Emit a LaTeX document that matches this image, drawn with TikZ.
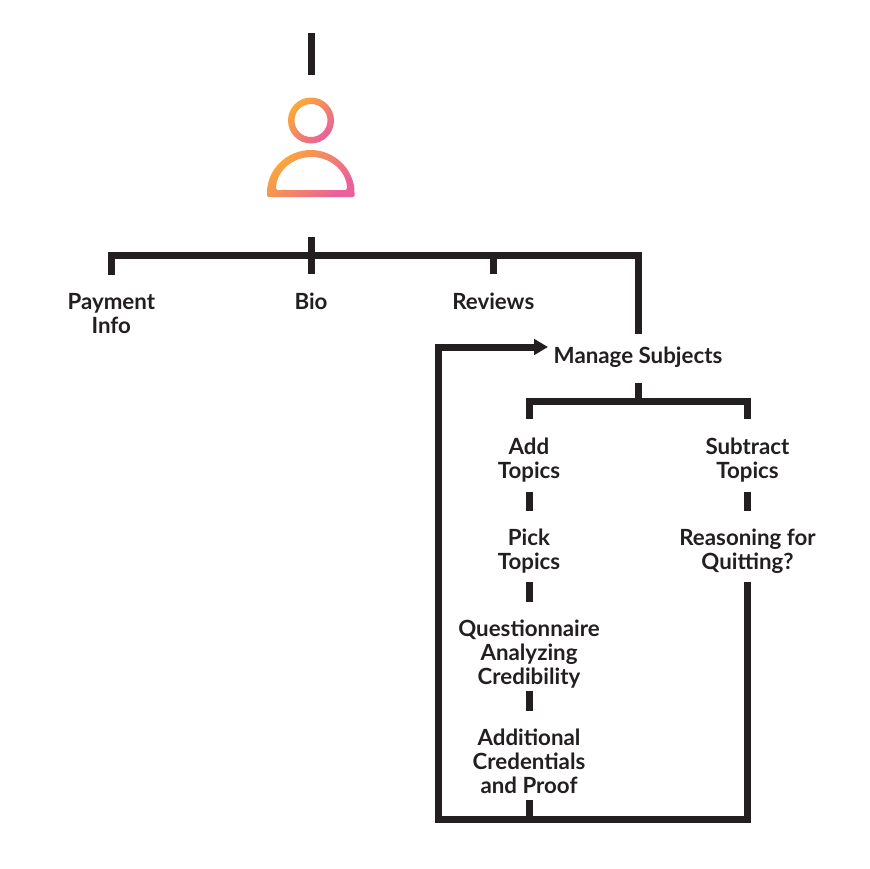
\documentclass[tikz,border=0pt]{standalone}
\usepackage{fontspec}
\setmainfont{Lato}
\definecolor{ink}{HTML}{231F20}
\definecolor{warmorange}{HTML}{FBAA35}
\definecolor{warmpink}{HTML}{EB5F9B}
\usetikzlibrary{arrows.meta,positioning}
\tikzset{
  trunk/.style={ink, line width=7pt},
  topic/.style={ink, font=\bfseries\fontsize{22.3}{24}\selectfont, align=center, inner sep=0pt, outer sep=0pt},
  persona/.style={top color=warmorange, bottom color=warmpink, shading angle=45, even odd rule}
}
\begin{document}
\begin{tikzpicture}[x=1pt,y=-1pt]
  \useasboundingbox (0,0) rectangle (870,868);
  % Person icon
  \shade[persona] (311,120.5) circle (23) (311,120.5) circle (16.5);
  \shade[persona,rounded corners=1.5pt]
    (267,197) -- (267,194) arc (180:360:43.75 and 44) -- (354.5,197) -- cycle
    (276,190) arc (180:360:35.5 and 33) -- cycle;
  % Top level labels
  \node[topic] (pay) at (111.3,313.5) {Payment\\Info};
  \node[topic] (bio) at (311,301) {Bio};
  \node[topic] (rev) at (493.3,301) {Reviews};
  \node[topic] (mng) at (638,357) {Manage Subjects};
  % Adding branch
  \node[topic] (add) at (529,460) {Add\\Topics};
  \node[topic] (pick) at (529,551) {Pick\\Topics};
  \node[topic] (quest) at (529,654) {Questionnaire\\Analyzing\\Credibility};
  \node[topic] (extra) at (529,761) {Additional\\Credentials\\and Proof};
  % Subtracting branch
  \node[topic] (sub) at (747.5,460) {Subtract\\Topics};
  \node[topic] (why) at (747.5,551) {Reasoning for\\Quitting?};
  % Free ends
  \coordinate (lead) at (311,33);
  \coordinate (leadend) at (311,75);
  \coordinate (stem) at (311,237);
  \coordinate (hub) at (311,255.5);
  \coordinate (fork) at (638,401.5);
  \coordinate (corner) at (438.5,819.5);
  \coordinate (back) at (548,347);
  % Connectors
  \draw[trunk] (lead) -- (leadend);
  \draw[trunk,shorten >=18.3pt] (stem) -- (bio.north);
  \draw[trunk,shorten <=18.3pt,shorten >=12.6pt] (pay.north) |- (hub) -| (mng.north);
  \draw[trunk,shorten <=18.3pt] (rev.north) -- (rev.north |- hub);
  \draw[trunk,shorten <=15.6pt] (mng.south) -- (fork);
  \draw[trunk,shorten <=18.6pt,shorten >=18.6pt] (add.north) |- (fork) -| (sub.north);
  \foreach \a/\b/\g in {add/pick/9.6,pick/quest/8.6,quest/extra/2.7,sub/why/9.6} {
    \draw[trunk,shorten <=\g pt,shorten >=17.6pt] (\a.south) -- (\b.north);
  }
  \draw[trunk,shorten <=6.6pt] (extra.south) -- (extra.south |- corner);
  \draw[trunk,shorten <=8.6pt,-{Triangle[length=14pt,width=15.5pt]}] (why.south) |- (corner) |- (back);
\end{tikzpicture}
\end{document}
